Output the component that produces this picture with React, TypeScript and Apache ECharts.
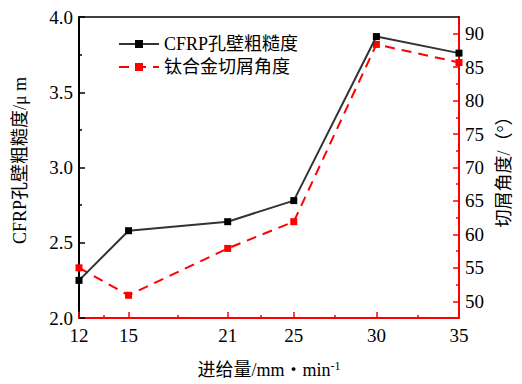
import React, { useEffect, useRef } from "react";
import * as echarts from "echarts";

const feedRates = [12, 15, 21, 25, 30, 35];
const roughness = [2.25, 2.58, 2.64, 2.78, 3.87, 3.76];
const chipAngles = [55, 50.9, 57.9, 61.9, 88.4, 85.7];
const xTickValues = [12, 15, 21, 25, 30, 35];
const xMinorTicks = [13.5, 18, 23, 27.5, 32.5];
const rightTickValues = [50, 55, 60, 65, 70, 75, 80, 85, 90];
const rightMinorTicks = [52.5, 57.5, 62.5, 67.5, 72.5, 77.5, 82.5, 87.5];
const seriesNames = ["CFRP孔壁粗糙度", "钛合金切屑角度"];

const FONT = "'Liberation Serif', 'Times New Roman', 'Noto Sans CJK SC', serif";
const RED = "#ff0000";

export default function App() {
  const ref = useRef<HTMLDivElement>(null);
  useEffect(() => {
    if (!ref.current) return;
    const chart = echarts.init(ref.current, null, { renderer: "svg" });
    const labelStyle = { color: "#000", fontSize: 19, fontFamily: FONT };
    chart.setOption({
      animation: false,
      backgroundColor: "#fff",
      grid: { left: 79, right: 63, top: 17, bottom: 59, containLabel: false },
      legend: {
        orient: "vertical",
        left: 113,
        top: 30,
        itemWidth: 40,
        itemHeight: 10,
        itemGap: 5,
        textStyle: { color: "#000", fontSize: 18, fontFamily: FONT },
        data: seriesNames,
      },
      xAxis: [
        {
          type: "value",
          position: "bottom",
          min: 12,
          max: 35,
          name: "进给量/mm・min{sup|-1}",
          nameLocation: "middle",
          nameGap: 42,
          nameTextStyle: {
            color: "#000",
            fontSize: 18,
            fontFamily: FONT,
            rich: { sup: { fontSize: 12, fontFamily: FONT, color: "#000", verticalAlign: "top", padding: [0, 0, 8, 0] } },
          },
          axisLine: { show: true, onZero: false, lineStyle: { color: RED, width: 2 } },
          axisTick: { show: true, inside: true, length: 6, customValues: xTickValues, lineStyle: { color: RED, width: 1.5 } },
          axisLabel: { ...labelStyle, margin: 8, customValues: xTickValues },
          splitLine: { show: false },
        },
        {
          type: "value",
          position: "bottom",
          min: 12,
          max: 35,
          axisLine: { show: false },
          axisTick: { show: true, inside: true, length: 3, customValues: xMinorTicks, lineStyle: { color: RED, width: 1.5 } },
          axisLabel: { show: false },
          splitLine: { show: false },
        },
        {
          type: "value",
          position: "top",
          min: 12,
          max: 35,
          axisLine: { show: true, onZero: false, lineStyle: { color: "#000", width: 1.5 } },
          axisTick: { show: false },
          axisLabel: { show: false },
          splitLine: { show: false },
        },
      ],
      yAxis: [
        {
          type: "value",
          position: "left",
          min: 2,
          max: 4,
          interval: 0.5,
          name: "CFRP孔壁粗糙度/μ m",
          nameLocation: "middle",
          nameGap: 50,
          nameRotate: 90,
          nameTextStyle: { color: "#000", fontSize: 18, fontFamily: FONT, padding: [0, 0, 0, 14] },
          axisLine: { show: true, onZero: false, lineStyle: { color: "#000", width: 2 } },
          axisTick: { show: true, inside: true, length: 6, lineStyle: { color: "#000", width: 1.5 } },
          minorTick: { show: true, splitNumber: 2, length: 3, lineStyle: { color: "#000", width: 1.5 } },
          axisLabel: { ...labelStyle, margin: 6, formatter: (v: number) => v.toFixed(1) },
          splitLine: { show: false },
        },
        {
          type: "value",
          position: "right",
          min: 47.5,
          max: 92.5,
          name: "切屑角度/（°）",
          nameLocation: "middle",
          nameGap: 36,
          nameRotate: 90,
          nameTextStyle: { color: "#000", fontSize: 18, fontFamily: FONT },
          axisLine: { show: true, onZero: false, lineStyle: { color: RED, width: 2 } },
          axisTick: { show: true, inside: true, length: 6, customValues: rightTickValues, lineStyle: { color: RED, width: 1.5 } },
          axisLabel: { ...labelStyle, margin: 6, customValues: rightTickValues },
          splitLine: { show: false },
        },
        {
          type: "value",
          position: "right",
          min: 47.5,
          max: 92.5,
          axisLine: { show: false },
          axisTick: { show: true, inside: true, length: 3, customValues: rightMinorTicks, lineStyle: { color: RED, width: 1.5 } },
          axisLabel: { show: false },
          splitLine: { show: false },
        },
      ],
      series: [
        {
          name: seriesNames[0],
          type: "line",
          xAxisIndex: 0,
          yAxisIndex: 0,
          data: feedRates.map((x, i) => [x, roughness[i]]),
          symbol: "rect",
          symbolSize: 7,
          color: "#333",
          lineStyle: { color: "#333", width: 2 },
          itemStyle: { color: "#000" },
          z: 3,
        },
        {
          name: seriesNames[1],
          type: "line",
          xAxisIndex: 0,
          yAxisIndex: 1,
          data: feedRates.map((x, i) => [x, chipAngles[i]]),
          symbol: "rect",
          symbolSize: 7,
          color: RED,
          lineStyle: { color: RED, width: 2, type: [10, 7] },
          itemStyle: { color: RED },
          z: 2,
        },
      ],
    });
    return () => chart.dispose();
  }, []);
  return <div ref={ref} style={{ position: "fixed", left: 0, top: 0, width: 522, height: 384 }} />;
}
